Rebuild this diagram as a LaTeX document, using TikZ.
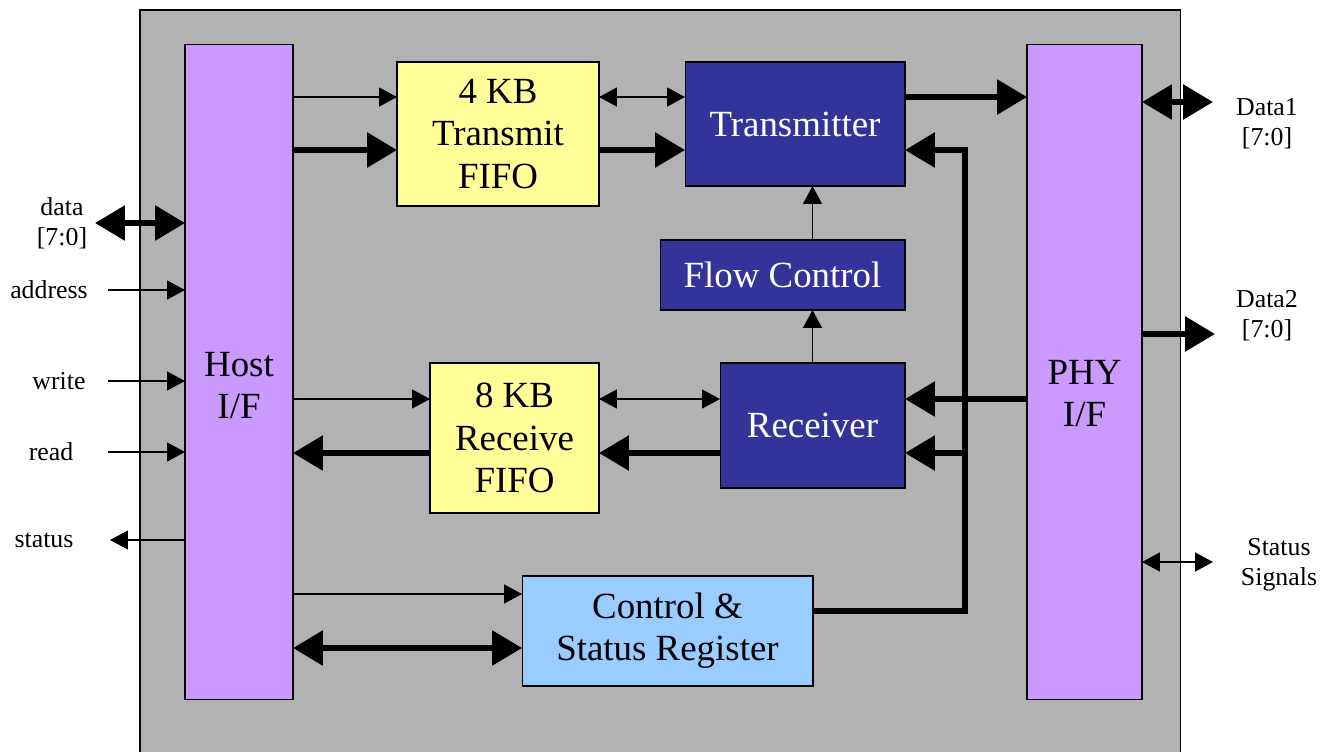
\documentclass[tikz,border=0pt]{standalone}
\usepackage{fontspec}
\setmainfont{Liberation Serif}
\usetikzlibrary{arrows.meta}
\usetikzlibrary{positioning}
\definecolor{chipgray}{HTML}{B2B2B2}
\definecolor{ifpurple}{HTML}{CC99FF}
\definecolor{fifoyellow}{HTML}{FFFF99}
\definecolor{blockblue}{HTML}{333399}
\definecolor{regblue}{HTML}{99CCFF}
\tikzset{
% boxes
ifbox/.style={rectangle, draw=black, line width=0.6pt, fill=ifpurple,
  minimum height=13.12cm},
fifobox/.style={rectangle, draw=black, line width=0.6pt, fill=fifoyellow,
  align=center, font=\fontsize{21}{24}\selectfont},
blockbox/.style={rectangle, draw=black, line width=0.6pt, fill=blockblue,
  text=white, align=center, font=\fontsize{21}{24}\selectfont},
boxtext/.style={align=center, font=\fontsize{21}{24}\selectfont},
sigtext/.style={align=center, font=\fontsize{14.7}{17}\selectfont},
% connectors
thinarrow/.style={line width=0.8pt, -{Triangle[length=0.36cm, width=0.38cm]}},
thinboth/.style={line width=0.8pt, {Triangle[length=0.36cm, width=0.38cm]}-{Triangle[length=0.36cm, width=0.38cm]}},
bigarrow/.style={line width=0.12cm, line join=miter, -{Triangle[length=0.6cm, width=0.68cm]}},
bigboth/.style={line width=0.12cm, {Triangle[length=0.6cm, width=0.68cm]}-{Triangle[length=0.6cm, width=0.68cm]}}
}

\begin{document}
\begin{tikzpicture}[x=0.02cm, y=-0.02cm, inner sep=0, outer sep=0]
  \useasboundingbox (0,0) rectangle (1332,751);

  \node[rectangle, draw=black, line width=0.6pt,
    anchor=north west,
    minimum width = 20.82cm,
    minimum height = 15cm,
    fill = chipgray] (chip) at (140,10) {};

  \node[ifbox, minimum width=2.16cm] (host) at (239,372) {};
  \node[boxtext] (host-text) at (host.center |- 0,386) {Host\\I/F};

  \node[ifbox, minimum width=2.3cm] (phy) at (1084.5,372) {};
  \node[boxtext] (phy-text) at (phy.center |- 0,394) {PHY\\I/F};

  \node[fifobox,
    minimum width = 4.04cm,
    minimum height = 2.88cm] (txfifo) at (498,134) {4 KB\\Transmit\\FIFO};

  \node[fifobox,
    minimum width = 3.38cm,
    minimum height = 3cm] (rxfifo) at (514.5,438) {8 KB\\Receive\\FIFO};

  \node[blockbox,
    minimum width = 4.4cm,
    minimum height = 2.48cm] (tx) at (795,124) {Transmitter};

  \node[blockbox,
    minimum width = 4.9cm,
    minimum height = 1.4cm] (flow) at (782.5,275) {Flow Control};

  \node[blockbox,
    minimum width = 3.7cm,
    minimum height = 2.5cm] (rx) at (812.5,425.5) {Receiver};

  \node[fifobox, fill=regblue,
    minimum width = 5.82cm,
    minimum height = 2.2cm] (csr) at (667.5,631) {Control \&\\Status Register};

  % host side
  \draw[thinarrow] (host.east |- 0,97) -- (txfifo.west |- 0,97);
  \draw[bigarrow] (host.east |- 0,150) -- (txfifo.west |- 0,150);
  \draw[thinarrow] (host.east |- 0,399) -- (rxfifo.west |- 0,399);
  \draw[bigarrow] (rxfifo.west |- 0,453) -- (host.east |- 0,453);
  \draw[thinarrow] (host.east |- 0,594) -- (csr.west |- 0,594);
  \draw[bigboth] (host.east |- 0,648) -- (csr.west |- 0,648);

  % fifos to blocks
  \draw[thinboth] (txfifo.east |- 0,97) -- (tx.west |- 0,97);
  \draw[bigarrow] (txfifo.east |- 0,150) -- (tx.west |- 0,150);
  \draw[thinboth] (rxfifo.east |- 0,399) -- (rx.west |- 0,399);
  \draw[bigarrow] (rx.west |- 0,453) -- (rxfifo.east |- 0,453);

  % flow control
  \draw[thinarrow] (rx.north) -- (rx.north |- flow.south);
  \draw[thinarrow] (flow.north -| rx.north) -- (tx.south -| rx.north);

  % phy side
  \draw[bigarrow] (tx.east |- 0,97) -- (phy.west |- 0,97);
  \draw[bigarrow] (phy.west |- 0,399) -- (rx.east |- 0,399);
  \coordinate (bus-top) at (965,150);
  \coordinate (bus-bot) at (965,611);
  \draw[bigarrow] (csr.east |- bus-bot) -- (bus-bot) -- (bus-top) -- (tx.east |- bus-top);
  \draw[bigarrow] (bus-top |- 0,453) -- (rx.east |- 0,453);

  % host signals
  \node[sigtext] (data-lbl) at (62,223) {data\\{[7:0]}};
  \node[sigtext] (addr-lbl) at (49,290) {address};
  \node[sigtext] (write-lbl) at (59,381) {write};
  \node[sigtext] (read-lbl) at (51,452) {read};
  \node[sigtext] (status-lbl) at (44,540) {status};
  \draw[bigboth] (data-lbl.east -| 95,0) -- (data-lbl.east -| host.west);
  \draw[thinarrow] (addr-lbl.east -| 108,0) -- (addr-lbl.east -| host.west);
  \draw[thinarrow] (write-lbl.east -| 108,0) -- (write-lbl.east -| host.west);
  \draw[thinarrow] (read-lbl.east -| 108,0) -- (read-lbl.east -| host.west);
  \draw[thinarrow] (status-lbl.east -| host.west) -- (status-lbl.east -| 110,0);

  % phy signals
  \node[sigtext] (data1-lbl) at (1267,124) {Data1\\{[7:0]}};
  \node[sigtext] (data2-lbl) at (1267,316) {Data2\\{[7:0]}};
  \node[sigtext] (stat-lbl) at (1279,565) {Status\\Signals};
  \coordinate (data1-end) at (1213,102);
  \coordinate (data2-end) at (1215,334);
  \coordinate (stat-end) at (1213,562);
  \draw[bigboth] (phy.east |- data1-end) -- (data1-end);
  \draw[bigarrow] (phy.east |- data2-end) -- (data2-end);
  \draw[thinboth] (phy.east |- stat-end) -- (stat-end);
\end{tikzpicture}
\end{document}
